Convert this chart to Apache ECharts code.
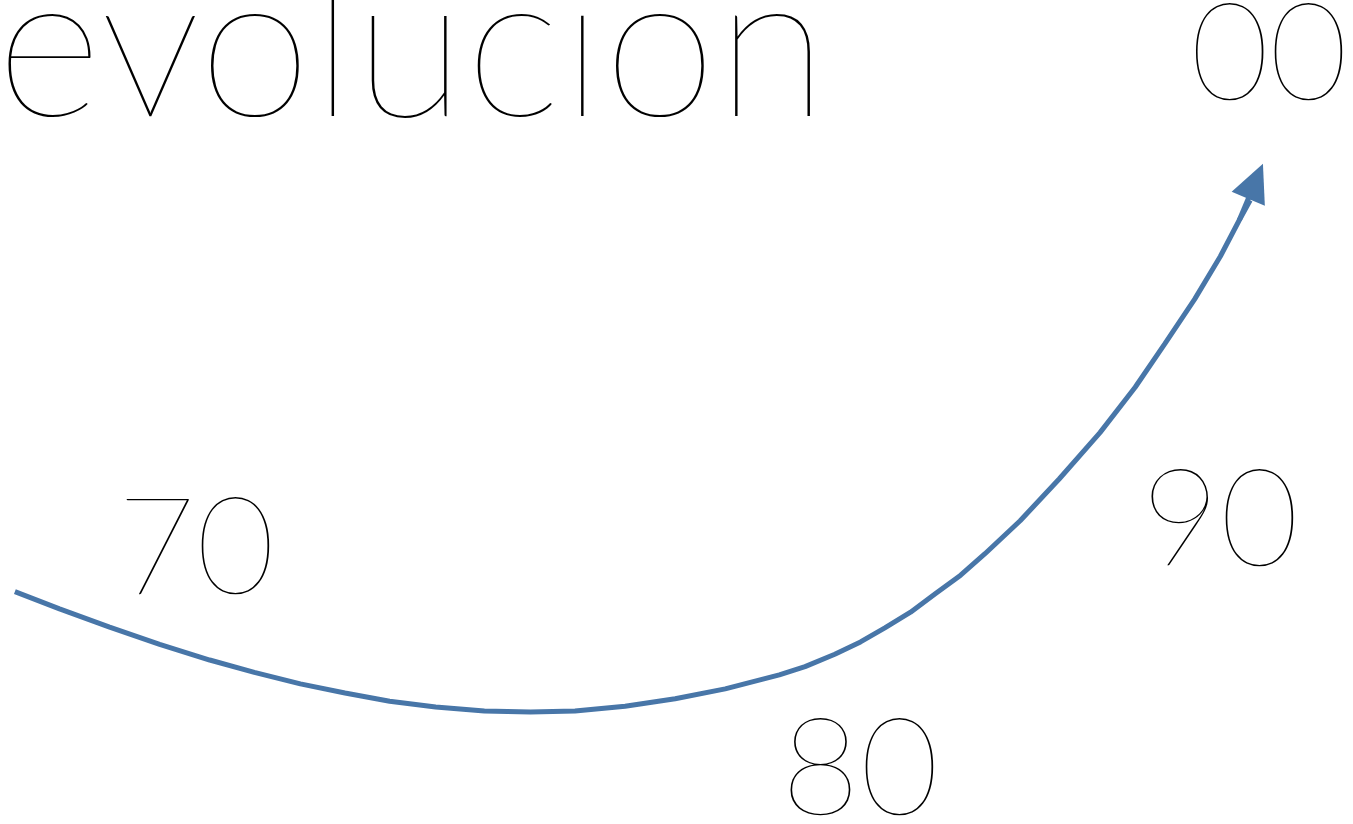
<!DOCTYPE html>
<html><head><meta charset="utf-8">
<script src="https://cdn.jsdelivr.net/npm/echarts@6/dist/echarts.min.js"></script>
<style>html,body{margin:0;padding:0;background:#fff}#c{width:1353px;height:824px}</style>
</head><body><div id="c"></div>
<script>
// Data
const titleText = 'evolucion';
const decadeLabels = ['70', '80', '90', '00'];
const curveX = [1.1, 4.4, 8.1, 11.8, 15.5, 18.8, 22.2, 25.5, 28.8, 32.2, 35.8, 39.2, 42.5, 46.2, 49.9, 53.6, 57.6, 59.5, 61.7, 63.6, 65.4, 67.3, 69.1, 71.0, 72.8, 75.4, 78.3, 81.3, 83.9, 86.1, 88.3, 90.2, 91.6, 92.4];
const curveY = [28.2, 26.1, 23.9, 21.8, 19.9, 18.4, 17.0, 15.9, 14.9, 14.2, 13.7, 13.6, 13.7, 14.3, 15.2, 16.4, 18.1, 19.1, 20.6, 22.1, 23.8, 25.7, 27.9, 30.2, 32.8, 36.8, 41.9, 47.5, 53.0, 58.3, 63.7, 68.9, 73.3, 75.7];
const arrowTip = [92.8, 78.0];

const color = '#4876a8';
const points = curveX.map((x, i) => [x, curveY[i]]);
const n = points.length;

// Layout of labels (pixels)
const labelPos = [
  { x: 117, y: 550, align: 'left' },
  { x: 781, y: 771, align: 'left' },
  { x: 1141, y: 522, align: 'left' },
  { x: 1348, y: 56, align: 'right' }
];
const digitFont = '200 136px Lato';

const chart = echarts.init(document.getElementById('c'), null, { renderer: 'canvas' });
chart.setOption({
  animation: false,
  backgroundColor: '#fff',
  grid: { left: 0, right: 0, top: 0, bottom: 0 },
  xAxis: { type: 'value', min: 0, max: 100, show: false },
  yAxis: { type: 'value', min: 0, max: 100, show: false },
  series: [{
    type: 'line',
    data: points,
    symbol: 'none',
    smooth: false,
    lineStyle: { color: color, width: 5 },
    markLine: {
      silent: true,
      symbol: ['none', 'triangle'],
      symbolSize: [36, 38],
      label: { show: false },
      lineStyle: { color: color, width: 5, type: 'solid' },
      itemStyle: { color: color },
      data: [[{ coord: points[n - 2] }, { coord: arrowTip }]]
    }
  }],
  graphic: [
    {
      type: 'text', x: -4, y: 50,
      style: { text: titleText, font: '200 205px Lato', fill: '#000', textAlign: 'left', textVerticalAlign: 'middle' }
    }
  ].concat(decadeLabels.map((t, i) => ({
    type: 'text', x: labelPos[i].x, y: labelPos[i].y,
    style: { text: t, font: digitFont, fill: '#000', textAlign: labelPos[i].align, textVerticalAlign: 'middle' }
  })))
});
</script></body></html>
